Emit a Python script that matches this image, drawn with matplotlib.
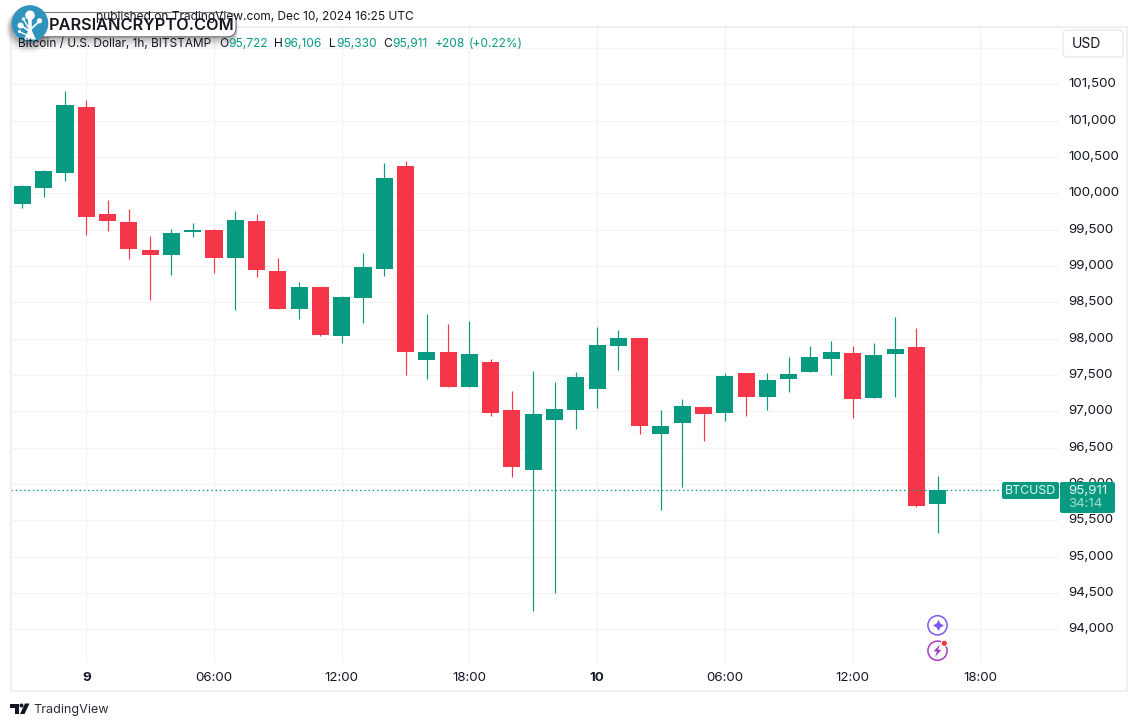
import matplotlib
matplotlib.use("Agg")
import matplotlib.pyplot as plt
from matplotlib.patches import Rectangle, FancyBboxPatch, Circle, Polygon
from matplotlib.transforms import ScaledTranslation

plt.rcParams['font.family'] = ['Inter', 'DejaVu Sans']

W, H = 1137, 726
GREEN = '#089981'
RED = '#F53649'
GRID = '#F2F3F5'
INK = '#131722'

opens = [99853, 100073, 100279, 101188, 99715, 99605, 99220, 99151, 99468, 99495, 99110,
         99619, 98931, 98408, 98711, 98036, 98559, 98958, 100376, 97706, 97816, 97335,
         97679, 97018, 96192, 96881, 97018, 97307, 97899, 98009, 96688, 96839, 97059,
         96977, 97527, 97197, 97445, 97541, 97720, 97802, 97183, 97789, 97885, 95722]
highs = [100114, 100321, 101408, 101284, 99908, 99784, 99412, 99509, 99591, 99509, 99757,
         99715, 99110, 98780, 98715, 98587, 99179, 100417, 100445, 98339, 98202, 98243,
         97720, 97280, 97555, 97403, 97541, 98160, 98119, 98009, 97018, 97169, 97059,
         97527, 97527, 97527, 97747, 97899, 97968, 97899, 97940, 98298, 98146, 96106]
lows = [99798, 99949, 100169, 99426, 99481, 99096, 98532, 98876, 99399, 98903, 98394,
        98848, 98408, 98270, 98036, 97940, 98215, 98862, 97500, 97445, 97335, 97335,
        96935, 96096, 94252, 94500, 96757, 97046, 97568, 96688, 95642, 95958, 96591,
        96867, 96935, 97018, 97266, 97541, 97500, 96908, 97183, 97197, 95683, 95330]
closes = [100100, 100307, 101215, 99674, 99619, 99234, 99151, 99454, 99495, 99110, 99633,
          98945, 98408, 98711, 98050, 98573, 98986, 100211, 97816, 97816, 97335, 97789,
          96977, 96234, 96963, 97032, 97472, 97913, 98009, 96798, 96798, 97073, 96963,
          97486, 97197, 97431, 97513, 97747, 97816, 97169, 97775, 97858, 95697, 95911]
# colour follows the picture where a body is flat against the previous close
up_flags = [1, 1, 1, 0, 0, 0, 0, 1, 1, 0, 1, 0, 0, 1, 0, 1, 1, 1, 0, 1, 0, 1,
            0, 0, 1, 1, 1, 1, 1, 0, 1, 1, 0, 1, 0, 1, 1, 1, 1, 0, 1, 1, 0, 1]

price_ticks = [94000, 94500, 95000, 95500, 96000, 96500, 97000, 97500, 98000,
               98500, 99000, 99500, 100000, 100500, 101000, 101500]
hidden_grid_price = 102000
time_tick_pos = [3, 9, 15, 21, 27, 33, 39, 45]
time_tick_labels = ['9', '06:00', '12:00', '18:00', '10', '06:00', '12:00', '18:00']
last_close = 95911

fig = plt.figure(figsize=(W / 100, H / 100), dpi=100, facecolor='white')

# main chart: x from 11 to 1059 px, y from 27 to 663 px
ax = fig.add_axes([11 / W, 1 - 663 / H, (1059 - 11) / W, (663 - 27) / H])
ax.set_xlim(-0.537, 48.70)
ax.set_ylim(93537, 102289)
for s in ax.spines.values():
    s.set_visible(False)
ax.set_axisbelow(True)

ax.set_yticks(price_ticks)
ax.set_yticklabels([f'{p:,}' for p in price_ticks], fontsize=9.6, color=INK, ha='left')
ax.yaxis.tick_right()
ax.tick_params(axis='y', length=0, pad=6.4)
up = ScaledTranslation(0, 1.1 / 72, fig.dpi_scale_trans)
for lab in ax.get_yticklabels():
    lab.set_transform(lab.get_transform() + up)
ax.set_xticks(time_tick_pos)
ax.set_xticklabels(time_tick_labels, fontsize=9.6, color=INK)
ax.tick_params(axis='x', length=0, pad=6.5)
for lab, txt in zip(ax.get_xticklabels(), time_tick_labels):
    if ':' not in txt:
        lab.set_fontweight('bold')
ax.grid(True, color=GRID, lw=0.9)
ax.axhline(hidden_grid_price, color=GRID, lw=0.9, zorder=0.5)

n = len(opens)
xs = list(range(n))
cols = [GREEN if u else RED for u in up_flags]
ax.vlines(xs, lows, highs, colors=cols, lw=0.85, zorder=2)
body_bot = [min(o, c) for o, c in zip(opens, closes)]
body_h = [abs(o - c) for o, c in zip(opens, closes)]
ax.bar(xs, body_h, bottom=body_bot, width=0.8, color=cols, lw=0, zorder=3)

ax.plot([-0.537, 46.02], [last_close, last_close], color=GREEN, lw=0.9,
        ls=(0, (1.2, 2.2)), zorder=4)

# overlay in pixel coordinates for the panel furniture
ov = fig.add_axes([0, 0, 1, 1], facecolor='none', zorder=10)
ov.set_xlim(0, W)
ov.set_ylim(H, 0)
ov.axis('off')

ov.add_patch(Rectangle((10.5, 26.5), 1116.5, 664.5, fill=False, ec='#EFF0F5', lw=1.5))

# currency button
ov.add_patch(FancyBboxPatch((1065, 32), 56, 23, boxstyle='round,pad=2,rounding_size=4',
                            fc='white', ec='#E6E8EE', lw=0.9))
ov.text(1072, 44.5, 'USD', fontsize=10, color=INK, va='center', ha='left')

# last-price tags
ov.add_patch(FancyBboxPatch((1003, 483), 55, 15, boxstyle='round,pad=1,rounding_size=2',
                            fc=GREEN, ec=GREEN, lw=0))
ov.text(1030.5, 490.8, 'BTCUSD', fontsize=8.9, color='#E8F6F3', ha='center', va='center')
ov.add_patch(FancyBboxPatch((1061, 483), 53, 29, boxstyle='round,pad=1,rounding_size=2',
                            fc=GREEN, ec=GREEN, lw=0))
ov.text(1068, 490.5, '95,911', fontsize=9.6, color='#E8F6F3', ha='left', va='center')
ov.text(1068, 504, '34:14', fontsize=9.6, color='#A5DACF', ha='left', va='center')

# header lines
ov.text(414, 17.3, 'published on TradingView.com, Dec 10, 2024 16:25 UTC', fontsize=8.55,
        color=INK, ha='right', va='center')
ov.text(18, 44, 'Bitcoin / U.S. Dollar, 1h, BITSTAMP', fontsize=8.5, color=INK, va='center')
legend_bits = [(219, 'O', INK), (228, '95,722', GREEN), (274, 'H', INK), (283, '96,106', GREEN),
               (329, 'L', INK), (336, '95,330', GREEN), (383, 'C', INK), (392, '95,911', GREEN),
               (435, '+208', GREEN), (469, '(+0.22%)', GREEN)]
for x, s, c in legend_bits:
    ov.text(x, 44, s, fontsize=8.6, color=c, va='center')

# watermark badge with soft shadow
for k, a in [(9, .035), (7, .05), (5, .07), (3, .09), (1, .12)]:
    ov.add_patch(FancyBboxPatch((28 - k * .4, 14 + k * .6), 208, 23,
                                boxstyle=f'round,pad={k*.6},rounding_size=10',
                                fc='black', ec='none', alpha=a))
    ov.add_patch(Circle((29, 26 + k * .4), 18 + k * .6, fc='black', ec='none', alpha=a))
ov.add_patch(FancyBboxPatch((32, 12.4), 204, 24.4, boxstyle='round,pad=0,rounding_size=9',
                            fc='white', ec='#555555', lw=0.6))
ov.add_patch(Circle((30, 23.5), 18.3, fc='#2F93BC', ec='none'))
ov.text(49, 25.8, 'PARSIANCRYPTO.COM', fontsize=11.75, fontweight='semibold', color='#17171f',
        va='center', ha='left')
for xy, r in [((30, 15.3), 4.8), ((20.6, 25.5), 3.0), ((39.5, 20.8), 2.6), ((23.5, 19), 1.7),
              ((19.5, 31.5), 1.6)]:
    ov.add_patch(Circle(xy, r, fc='white', ec='none'))
ov.plot([30, 30], [37, 18], color='white', lw=2.6, solid_capstyle='round')
ov.plot([29, 22], [31, 26], color='white', lw=1.3)
ov.plot([31, 38.5], [29, 22], color='white', lw=1.3)
ov.plot([28, 24], [27, 20], color='white', lw=1.0)
ov.plot([29, 20], [36, 32], color='white', lw=1.0)
ov.add_patch(Polygon([(24, 39.5), (36, 39.5), (32, 31), (28, 31)], fc='white', ec='none'))

# event icons
ov.add_patch(Circle((937.5, 625.3), 9.6, fc='white', ec='#7E57F5', lw=1.1))
ov.scatter([937.5], [625.3], marker=(4, 1, 0), s=62, c='#7E57F5', lw=0)
ov.add_patch(Circle((937.5, 650.7), 9.6, fc='white', ec='#A33DC0', lw=1.1))
ov.add_patch(Polygon([(940, 644.5), (933.5, 651.5), (937, 651.5), (935, 657), (941.5, 649.8),
                      (938, 649.8)], fc='#A33DC0', ec='none'))
ov.add_patch(Circle((944.3, 643.3), 3.6, fc='white', ec='none'))
ov.add_patch(Circle((944.3, 643.3), 2.6, fc='#F23645', ec='none'))

# TradingView footer
ov.add_patch(Polygon([(10, 703.5), (19, 703.5), (19, 714), (15, 714), (15, 707.5), (10, 707.5)],
                     fc=INK, ec='none'))
ov.add_patch(Circle((21.5, 705.5), 2, fc=INK, ec='none'))
ov.add_patch(Polygon([(25, 703.5), (29.5, 703.5), (24.5, 714), (20, 714)], fc=INK, ec='none'))
ov.text(33.5, 709.8, 'TradingView', fontsize=9.1, color='#2a2e39', va='center', ha='left')

fig.savefig('out.png', dpi=100, facecolor='white')
